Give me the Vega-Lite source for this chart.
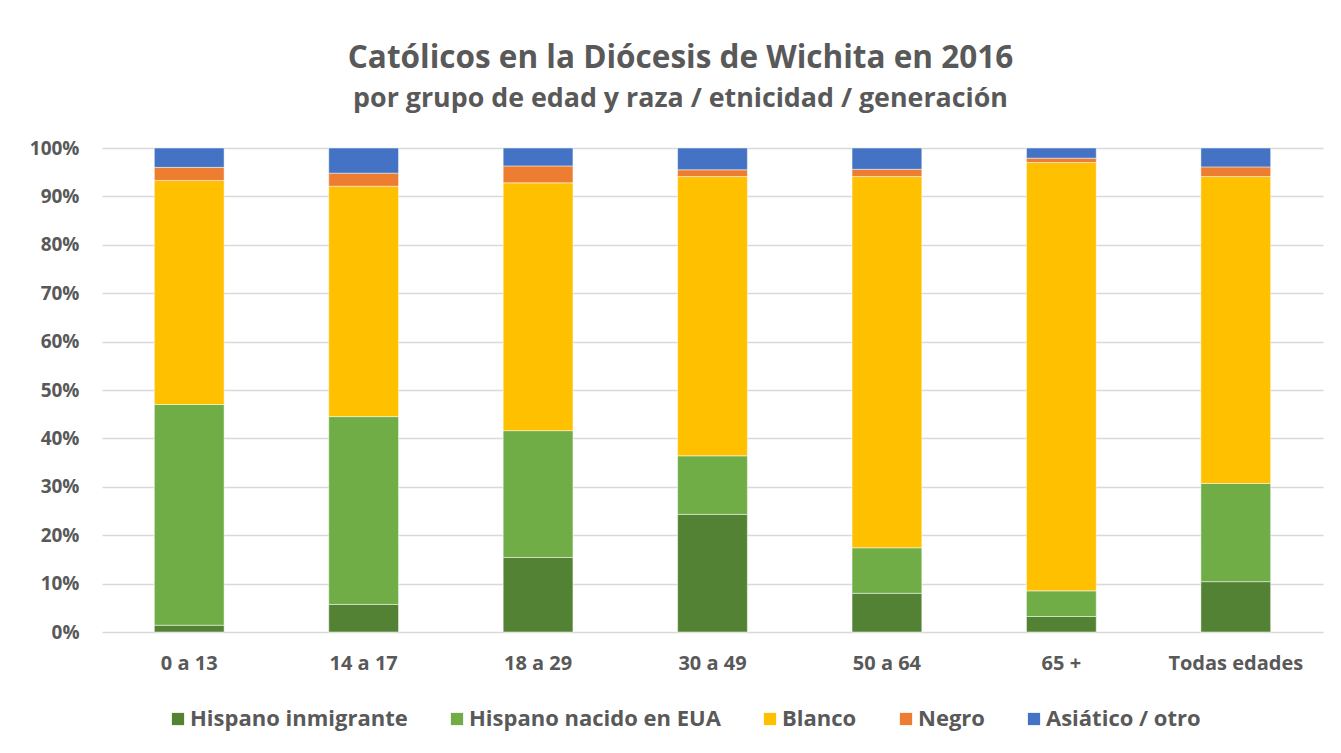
{
  "$schema": "https://vega.github.io/schema/vega-lite/v6.json",
  "autosize": "none",
  "width": 1221,
  "height": 484,
  "padding": {"left": 102, "top": 148, "right": 18, "bottom": 121},
  "background": "#ffffff",
  "title": {
    "text": "Católicos en la Diócesis de Wichita en 2016",
    "subtitle": "por grupo de edad y raza / etnicidad / generación",
    "anchor": "middle",
    "dx": -32,
    "offset": 26,
    "font": "Open Sans",
    "fontSize": 31.5,
    "fontWeight": "bold",
    "color": "#595959",
    "subtitleFont": "Open Sans",
    "subtitleFontSize": 26.8,
    "subtitleFontWeight": "bold",
    "subtitleColor": "#595959",
    "subtitlePadding": 12
  },
  "data": {
    "values": [
      {"edad": "0 a 13", "grupo": "Hispano inmigrante", "orden": 1, "pct": 1.4},
      {"edad": "0 a 13", "grupo": "Hispano nacido en EUA", "orden": 2, "pct": 45.6},
      {"edad": "0 a 13", "grupo": "Blanco", "orden": 3, "pct": 46.3},
      {"edad": "0 a 13", "grupo": "Negro", "orden": 4, "pct": 2.7},
      {"edad": "0 a 13", "grupo": "Asiático / otro", "orden": 5, "pct": 4.0},
      {"edad": "14 a 17", "grupo": "Hispano inmigrante", "orden": 1, "pct": 5.7},
      {"edad": "14 a 17", "grupo": "Hispano nacido en EUA", "orden": 2, "pct": 38.8},
      {"edad": "14 a 17", "grupo": "Blanco", "orden": 3, "pct": 47.6},
      {"edad": "14 a 17", "grupo": "Negro", "orden": 4, "pct": 2.7},
      {"edad": "14 a 17", "grupo": "Asiático / otro", "orden": 5, "pct": 5.2},
      {"edad": "18 a 29", "grupo": "Hispano inmigrante", "orden": 1, "pct": 15.4},
      {"edad": "18 a 29", "grupo": "Hispano nacido en EUA", "orden": 2, "pct": 26.2},
      {"edad": "18 a 29", "grupo": "Blanco", "orden": 3, "pct": 51.2},
      {"edad": "18 a 29", "grupo": "Negro", "orden": 4, "pct": 3.5},
      {"edad": "18 a 29", "grupo": "Asiático / otro", "orden": 5, "pct": 3.7},
      {"edad": "30 a 49", "grupo": "Hispano inmigrante", "orden": 1, "pct": 24.3},
      {"edad": "30 a 49", "grupo": "Hispano nacido en EUA", "orden": 2, "pct": 12.1},
      {"edad": "30 a 49", "grupo": "Blanco", "orden": 3, "pct": 57.7},
      {"edad": "30 a 49", "grupo": "Negro", "orden": 4, "pct": 1.4},
      {"edad": "30 a 49", "grupo": "Asiático / otro", "orden": 5, "pct": 4.5},
      {"edad": "50 a 64", "grupo": "Hispano inmigrante", "orden": 1, "pct": 8.0},
      {"edad": "50 a 64", "grupo": "Hispano nacido en EUA", "orden": 2, "pct": 9.4},
      {"edad": "50 a 64", "grupo": "Blanco", "orden": 3, "pct": 76.7},
      {"edad": "50 a 64", "grupo": "Negro", "orden": 4, "pct": 1.5},
      {"edad": "50 a 64", "grupo": "Asiático / otro", "orden": 5, "pct": 4.4},
      {"edad": "65 +", "grupo": "Hispano inmigrante", "orden": 1, "pct": 3.2},
      {"edad": "65 +", "grupo": "Hispano nacido en EUA", "orden": 2, "pct": 5.3},
      {"edad": "65 +", "grupo": "Blanco", "orden": 3, "pct": 88.5},
      {"edad": "65 +", "grupo": "Negro", "orden": 4, "pct": 0.9},
      {"edad": "65 +", "grupo": "Asiático / otro", "orden": 5, "pct": 2.1},
      {"edad": "Todas edades", "grupo": "Hispano inmigrante", "orden": 1, "pct": 10.4},
      {"edad": "Todas edades", "grupo": "Hispano nacido en EUA", "orden": 2, "pct": 20.3},
      {"edad": "Todas edades", "grupo": "Blanco", "orden": 3, "pct": 63.4},
      {"edad": "Todas edades", "grupo": "Negro", "orden": 4, "pct": 2.0},
      {"edad": "Todas edades", "grupo": "Asiático / otro", "orden": 5, "pct": 3.9}
    ]
  },
  "mark": {"type": "bar", "stroke": "#ffffff", "strokeWidth": 0.8, "strokeOpacity": 0.6},
  "encoding": {
    "x": {
      "field": "edad",
      "type": "nominal",
      "sort": ["0 a 13", "14 a 17", "18 a 29", "30 a 49", "50 a 64", "65 +", "Todas edades"],
      "scale": {"paddingInner": 0.6, "paddingOuter": 0.3},
      "axis": {
        "title": null,
        "labelAngle": 0,
        "ticks": false,
        "domain": false,
        "labelPadding": 21,
        "labelFont": "Open Sans",
        "labelFontSize": 20,
        "labelFontWeight": "bold",
        "labelColor": "#595959"
      }
    },
    "y": {
      "field": "pct",
      "type": "quantitative",
      "stack": "normalize",
      "scale": {"domain": [0, 1]},
      "axis": {
        "title": null,
        "format": ".0%",
        "values": [0, 0.1, 0.2, 0.3, 0.4, 0.5, 0.6, 0.7, 0.8, 0.9, 1],
        "labelOverlap": false,
        "ticks": false,
        "domain": false,
        "labelPadding": 23,
        "labelFont": "Open Sans",
        "labelFontSize": 19,
        "labelFontWeight": "bold",
        "labelColor": "#595959",
        "gridColor": "#d9d9d9",
        "gridWidth": 1.5
      }
    },
    "color": {
      "field": "grupo",
      "type": "nominal",
      "sort": ["Hispano inmigrante", "Hispano nacido en EUA", "Blanco", "Negro", "Asiático / otro"],
      "scale": {
        "domain": ["Hispano inmigrante", "Hispano nacido en EUA", "Blanco", "Negro", "Asiático / otro"],
        "range": ["#548235", "#70AD47", "#FFC000", "#ED7D31", "#4472C4"]
      },
      "legend": {
        "title": null,
        "orient": "none",
        "direction": "horizontal",
        "legendX": 65,
        "legendY": 560,
        "padding": 0,
        "symbolType": "square",
        "symbolSize": 150,
        "symbolStrokeWidth": 0,
        "labelFont": "Open Sans",
        "labelFontSize": 22,
        "labelFontWeight": "bold",
        "labelColor": "#595959",
        "labelOffset": 1,
        "columnPadding": 38,
        "labelLimit": 400
      }
    },
    "order": {"field": "orden", "type": "quantitative", "sort": "ascending"}
  },
  "config": {
    "view": {"stroke": null},
    "axis": {"gridColor": "#d9d9d9"}
  }
}
